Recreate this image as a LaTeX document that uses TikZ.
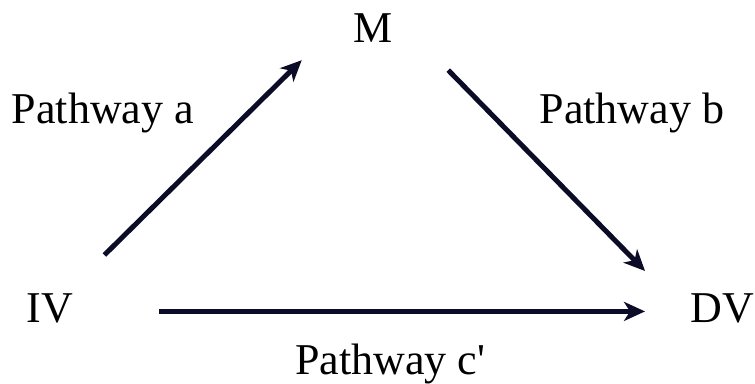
\documentclass[tikz,border=0pt]{standalone}
\usepackage{fontspec}
\setmainfont{Liberation Serif}
\usetikzlibrary{arrows.meta, positioning}
\definecolor{pathcol}{RGB}{12,12,40}

\begin{document}
\begin{tikzpicture}[
        x=1pt, y=1pt,
        var/.style={inner sep=0pt, anchor=base, font=\fontsize{44}{52}\selectfont},
        label/.style={inner sep=0pt, anchor=base, font=\fontsize{44}{52}\selectfont},
        line/.style={draw=pathcol, line width=5pt, -{Stealth[length=21pt, width=19pt, inset=6pt]}}
    ]
        \useasboundingbox (0,0) rectangle (755,383);
        % Variables
        \node [var] (iv) at (50,60) {IV};
        \node [var] (m) at (373.5,340) {M};
        \node [var] (dv) at (722,60) {DV};

        % Pathway labels
        \node [label] (pa) at (103,259) {Pathway a};
        \node [label] (pb) at (632,259) {Pathway b};
        \node [label] (pc) at (390,9) {Pathway c\textquotesingle};

        % Edges
        \path [line] ([shift={(31,39)}]iv.north east) -- ([shift={(-52,-17)}]m.south west);
        \path [line] ([shift={(55,-27)}]m.south east) -- ([shift={(-45,23)}]dv.north west);
        \path [line] ([shift={(86,-2.5)}]iv.east) -- ([shift={(-45,-2.5)}]dv.west);
    \end{tikzpicture}
\end{document}
